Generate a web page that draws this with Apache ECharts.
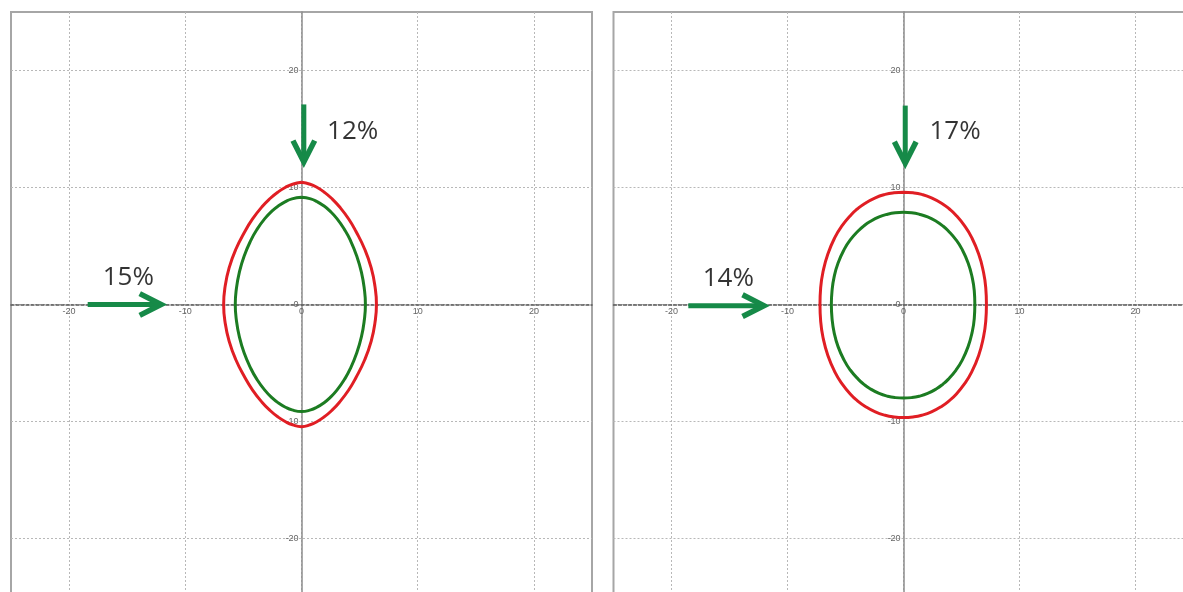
<!DOCTYPE html>
<html>
<head>
<meta charset="utf-8">
<title>Contours</title>
<script src="https://cdn.jsdelivr.net/npm/echarts@6/dist/echarts.min.js"></script>
<style>
    html, body { margin: 0; padding: 0; background: #fff; }
    #chart { width: 1183px; height: 592px; }
</style>
</head>
<body>
<div id="chart"></div>
<script>
    // both panels share the same axis range, labels every 10
    var axisMin = -25;
    var axisMax = 25;
    var tickStep = 5;

    // left panel curves [x, y]
    var leftRed = [
        [0, 10.44], [0.74, 10.28], [1.32, 10.02], [1.96, 9.6], [2.58, 9.08], [3.27, 8.35],
        [4.06, 7.31], [4.68, 6.26], [5.45, 4.7], [6.0, 3.13], [6.32, 1.57], [6.45, 0],
        [6.32, -1.57], [6.0, -3.13], [5.45, -4.7], [4.68, -6.26], [4.06, -7.31], [3.27, -8.35],
        [2.58, -9.08], [1.96, -9.6], [1.32, -10.02], [0.74, -10.28], [0, -10.44],
        [-0.77, -10.28], [-1.37, -10.02], [-2.04, -9.6], [-2.68, -9.08], [-3.4, -8.35],
        [-4.21, -7.31], [-4.86, -6.26], [-5.66, -4.7], [-6.23, -3.13], [-6.57, -1.57], [-6.7, 0],
        [-6.57, 1.57], [-6.23, 3.13], [-5.66, 4.7], [-4.86, 6.26], [-4.21, 7.31], [-3.4, 8.35],
        [-2.68, 9.08], [-2.04, 9.6], [-1.37, 10.02], [-0.77, 10.28], [0, 10.44]
    ];
    var leftGreen = [
        [0, 9.17], [0.79, 9.03], [1.33, 8.8], [1.91, 8.44], [2.46, 7.98], [3.05, 7.34],
        [3.69, 6.42], [4.2, 5.5], [4.76, 4.13], [5.16, 2.75], [5.4, 1.38], [5.5, 0],
        [5.4, -1.37], [5.16, -2.75], [4.76, -4.12], [4.2, -5.49], [3.69, -6.41], [3.05, -7.32],
        [2.46, -7.96], [1.91, -8.42], [1.33, -8.78], [0.79, -9.01], [0, -9.15],
        [-0.82, -9.01], [-1.38, -8.78], [-1.98, -8.42], [-2.55, -7.96], [-3.16, -7.32],
        [-3.83, -6.41], [-4.35, -5.49], [-4.94, -4.12], [-5.35, -2.75], [-5.6, -1.37], [-5.7, 0],
        [-5.6, 1.38], [-5.35, 2.75], [-4.94, 4.13], [-4.35, 5.5], [-3.83, 6.42], [-3.16, 7.34],
        [-2.55, 7.98], [-1.98, 8.44], [-1.38, 8.8], [-0.82, 9.03], [0, 9.17]
    ];

    // right panel curves [x, y]
    var rightRed = [
        [0, 9.6], [0.82, 9.55], [1.57, 9.41], [2.41, 9.12], [3.31, 8.64], [3.96, 8.16],
        [4.48, 7.68], [5.27, 6.72], [5.86, 5.76], [6.48, 4.32], [6.87, 2.88], [7.09, 1.44],
        [7.15, 0], [7.09, -1.45], [6.87, -2.9], [6.48, -4.35], [5.86, -5.8], [5.27, -6.76],
        [4.48, -7.73], [3.96, -8.21], [3.31, -8.69], [2.41, -9.18], [1.57, -9.47], [0.82, -9.61],
        [0, -9.66], [-0.82, -9.61], [-1.58, -9.47], [-2.43, -9.18], [-3.33, -8.69], [-3.99, -8.21],
        [-4.51, -7.73], [-5.31, -6.76], [-5.9, -5.8], [-6.52, -4.35], [-6.92, -2.9], [-7.14, -1.45],
        [-7.2, 0], [-7.14, 1.44], [-6.92, 2.88], [-6.52, 4.32], [-5.9, 5.76], [-5.31, 6.72],
        [-4.51, 7.68], [-3.99, 8.16], [-3.33, 8.64], [-2.43, 9.12], [-1.58, 9.41], [-0.82, 9.55],
        [0, 9.6]
    ];
    var rightGreen = [
        [0, 7.88], [0.7, 7.84], [1.35, 7.72], [2.08, 7.49], [2.85, 7.09], [3.41, 6.7],
        [3.85, 6.3], [4.53, 5.52], [5.04, 4.73], [5.57, 3.55], [5.91, 2.36], [6.1, 1.18],
        [6.15, 0], [6.1, -1.2], [5.91, -2.4], [5.57, -3.6], [5.04, -4.8], [4.53, -5.6],
        [3.85, -6.4], [3.41, -6.8], [2.85, -7.2], [2.08, -7.6], [1.35, -7.84], [0.7, -7.96],
        [0, -8.0], [-0.71, -7.96], [-1.37, -7.84], [-2.1, -7.6], [-2.88, -7.2], [-3.44, -6.8],
        [-3.89, -6.4], [-4.59, -5.6], [-5.1, -4.8], [-5.64, -3.6], [-5.98, -2.4], [-6.16, -1.2],
        [-6.22, 0], [-6.16, 1.18], [-5.98, 2.36], [-5.64, 3.55], [-5.1, 4.73], [-4.59, 5.52],
        [-3.89, 6.3], [-3.44, 6.7], [-2.88, 7.09], [-2.1, 7.49], [-1.37, 7.72], [-0.71, 7.84],
        [0, 7.88]
    ];

    // arrows [x start, y start, x tip, y tip]
    var leftArrows = [[0.2, 17.1, 0.2, 11.75], [-18.4, 0, -11.65, 0]];
    var rightArrows = [[0.15, 17.0, 0.15, 11.65], [-18.55, -0.1, -11.6, -0.1]];

    // percentage labels [x, y, text]
    var leftLabels = [[4.4, 14.8, '12%'], [-14.9, 2.3, '15%']];
    var rightLabels = [[4.45, 14.75, '17%'], [-15.1, 2.2, '14%']];

    var redColor = '#e01e24';
    var greenColor = '#1c7c22';
    var arrowColor = '#168a48';

    // pixel layout of the two plot boxes
    var boxes = [
        { left: 11, top: 12, width: 581, height: 585 },
        { left: 613.5, top: 12, width: 580, height: 585 }
    ];

    var chart = echarts.init(document.getElementById('chart'));

    function tickLabel(v) {
        return v % 10 === 0 ? String(v) : '';
    }

    function makeAxis(index, isX) {
        var box = boxes[index];
        return {
            type: 'value',
            gridIndex: index,
            min: axisMin,
            max: axisMax,
            interval: tickStep,
            position: isX ? 'bottom' : 'left',
            // move the axis to the middle of the box (where 0 is)
            offset: isX ? -box.height / 2 : -box.width / 2,
            axisLine: {
                onZero: false,
                lineStyle: isX
                    ? { color: '#555', width: 1.5, type: [3, 2] }
                    : { color: '#8c8c8c', width: 1.5 }
            },
            axisTick: { show: false },
            axisLabel: {
                formatter: tickLabel,
                fontSize: 9,
                color: '#666',
                margin: 3,
                fontFamily: 'Liberation Sans',
                showMinLabel: false,
                showMaxLabel: false
            },
            splitLine: {
                show: true,
                lineStyle: {
                    color: ['rgba(0,0,0,0)', '#b8b8b8'],
                    type: [2, 2],
                    width: 1
                }
            }
        };
    }

    function renderArrow(params, api) {
        var start = api.coord([api.value(0), api.value(1)]);
        var tip = api.coord([api.value(2), api.value(3)]);
        var dx = tip[0] - start[0];
        var dy = tip[1] - start[1];
        var len = Math.sqrt(dx * dx + dy * dy);
        var ux = dx / len, uy = dy / len;
        var arm = 24, ang = 0.47;
        var c = Math.cos(ang), s = Math.sin(ang);
        var v = [tip[0] - ux * 5, tip[1] - uy * 5];
        var w1 = [v[0] - arm * (ux * c - uy * s), v[1] - arm * (uy * c + ux * s)];
        var w2 = [v[0] - arm * (ux * c + uy * s), v[1] - arm * (uy * c - ux * s)];
        return {
            type: 'group',
            children: [{
                type: 'line',
                shape: { x1: start[0], y1: start[1], x2: v[0], y2: v[1] },
                style: { stroke: arrowColor, lineWidth: 5 }
            }, {
                type: 'polyline',
                shape: { points: [w1, v, w2] },
                style: { stroke: arrowColor, lineWidth: 5.5, fill: null, lineJoin: 'miter' }
            }]
        };
    }

    function panelSeries(index, red, green, arrows, labels) {
        var curve = function (data, color) {
            return {
                type: 'line',
                xAxisIndex: index,
                yAxisIndex: index,
                data: data,
                smooth: 0.5,
                showSymbol: false,
                silent: true,
                lineStyle: { color: color, width: 3 }
            };
        };
        return [
            curve(red, redColor),
            curve(green, greenColor),
            {
                type: 'custom',
                xAxisIndex: index,
                yAxisIndex: index,
                renderItem: renderArrow,
                encode: { x: [0, 2], y: [1, 3] },
                data: arrows,
                silent: true
            },
            {
                type: 'scatter',
                xAxisIndex: index,
                yAxisIndex: index,
                symbolSize: 0,
                data: labels,
                silent: true,
                label: {
                    show: true,
                    position: 'inside',
                    formatter: function (p) { return p.value[2]; },
                    fontSize: 26,
                    fontFamily: 'Open Sans',
                    color: '#000'
                }
            }
        ];
    }

    var grids = boxes.map(function (b) {
        return {
            left: b.left, top: b.top, width: b.width, height: b.height,
            show: true, borderColor: '#a6a6a6', borderWidth: 2,
            backgroundColor: 'transparent', containLabel: false, outerBoundsMode: 'none'
        };
    });

    var option = {
        animation: false,
        backgroundColor: '#fff',
        grid: grids,
        xAxis: [makeAxis(0, true), makeAxis(1, true)],
        yAxis: [makeAxis(0, false), makeAxis(1, false)],
        series: [].concat(
            panelSeries(0, leftRed, leftGreen, leftArrows, leftLabels),
            panelSeries(1, rightRed, rightGreen, rightArrows, rightLabels)
        )
    };

    chart.setOption(option);
    window.addEventListener('resize', function () {
        chart.resize();
    });
</script>
</body>
</html>
